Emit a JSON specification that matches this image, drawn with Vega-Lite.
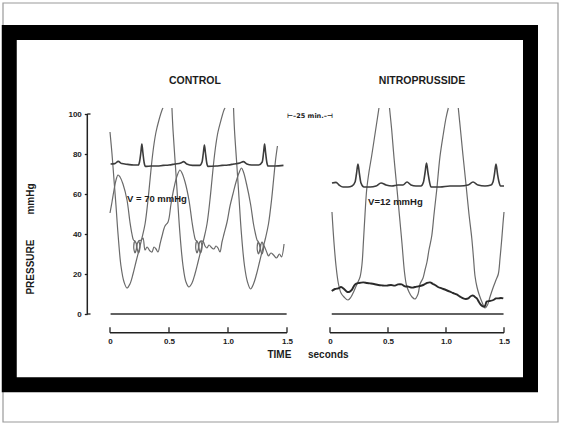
{
"$schema": "https://vega.github.io/schema/vega-lite/v6.json",
"width": 522, "height": 353,
"autosize": {"type": "none"},
"padding": {"left": 9, "top": 32, "right": 30, "bottom": 39},
"background": "white",
"config": {"view": {"stroke": null}, "axis": {"grid": false}, "font": "Liberation Sans"},
"datasets": {
"ticks": [{"t":0},{"t":0.5},{"t":1},{"t":1.5}],
"ycaps": [{"v":0},{"v":100}],
"c_ecg": [{"t":0.005,"v":75},{"t":0.04,"v":75.2},{"t":0.07,"v":76.3},{"t":0.1,"v":75.2},{"t":0.15,"v":74.8},{"t":0.2,"v":74.5},{"t":0.24,"v":74.5},{"t":0.25,"v":76},{"t":0.262,"v":81},{"t":0.27,"v":85},{"t":0.278,"v":81},{"t":0.29,"v":75.5},{"t":0.3,"v":73.8},{"t":0.35,"v":74},{"t":0.4,"v":74},{"t":0.45,"v":74.3},{"t":0.5,"v":74.5},{"t":0.55,"v":75},{"t":0.6,"v":75.5},{"t":0.625,"v":76.2},{"t":0.65,"v":75},{"t":0.7,"v":74.3},{"t":0.76,"v":74.3},{"t":0.78,"v":76},{"t":0.792,"v":81},{"t":0.8,"v":84.5},{"t":0.808,"v":81},{"t":0.82,"v":75.5},{"t":0.83,"v":73.8},{"t":0.9,"v":74},{"t":0.95,"v":74.3},{"t":1.0,"v":74.5},{"t":1.05,"v":75},{"t":1.1,"v":75.5},{"t":1.13,"v":76.2},{"t":1.16,"v":75},{"t":1.2,"v":74.5},{"t":1.26,"v":74.5},{"t":1.29,"v":76},{"t":1.302,"v":81},{"t":1.31,"v":85},{"t":1.318,"v":81},{"t":1.33,"v":75.5},{"t":1.34,"v":74},{"t":1.4,"v":74},{"t":1.47,"v":74.3}],
"c_lv": [
{"s":"a","t":0,"v":91},{"s":"a","t":0.017,"v":80},{"s":"a","t":0.034,"v":67},{"s":"a","t":0.051,"v":54},{"s":"a","t":0.068,"v":40},{"s":"a","t":0.093,"v":24},{"s":"a","t":0.119,"v":16},{"s":"a","t":0.144,"v":13},{"s":"a","t":0.169,"v":15},{"s":"a","t":0.195,"v":20},{"s":"a","t":0.22,"v":26},{"s":"a","t":0.246,"v":32},{"s":"a","t":0.271,"v":38},{"s":"a","t":0.297,"v":45},{"s":"a","t":0.322,"v":57},{"s":"a","t":0.339,"v":67},{"s":"a","t":0.356,"v":77},{"s":"a","t":0.373,"v":85},{"s":"a","t":0.39,"v":91},{"s":"a","t":0.415,"v":97},{"s":"a","t":0.441,"v":102},{"s":"a","t":0.449,"v":103},
{"s":"b","t":0.525,"v":103},{"s":"b","t":0.534,"v":92},{"s":"b","t":0.551,"v":77},{"s":"b","t":0.568,"v":62},{"s":"b","t":0.593,"v":40},{"s":"b","t":0.619,"v":24},{"s":"b","t":0.644,"v":16},{"s":"b","t":0.669,"v":13.5},{"s":"b","t":0.695,"v":15.5},{"s":"b","t":0.72,"v":20},{"s":"b","t":0.746,"v":26},{"s":"b","t":0.771,"v":32},{"s":"b","t":0.797,"v":38},{"s":"b","t":0.822,"v":45},{"s":"b","t":0.847,"v":57},{"s":"b","t":0.864,"v":67},{"s":"b","t":0.881,"v":77},{"s":"b","t":0.898,"v":85},{"s":"b","t":0.915,"v":91},{"s":"b","t":0.941,"v":97},{"s":"b","t":0.966,"v":102},{"s":"b","t":0.975,"v":103},
{"s":"c","t":1.047,"v":103},{"s":"c","t":1.055,"v":92},{"s":"c","t":1.072,"v":77},{"s":"c","t":1.089,"v":62},{"s":"c","t":1.114,"v":40},{"s":"c","t":1.14,"v":24},{"s":"c","t":1.165,"v":16},{"s":"c","t":1.191,"v":12.5},{"s":"c","t":1.216,"v":15},{"s":"c","t":1.242,"v":20},{"s":"c","t":1.267,"v":26},{"s":"c","t":1.292,"v":32},{"s":"c","t":1.318,"v":38},{"s":"c","t":1.343,"v":45},{"s":"c","t":1.369,"v":57},{"s":"c","t":1.386,"v":67},{"s":"c","t":1.403,"v":77},{"s":"c","t":1.419,"v":84}],
"c_pcw": [{"t":0,"v":50.5},{"t":0.017,"v":56},{"t":0.034,"v":62},{"t":0.051,"v":67},{"t":0.068,"v":69.5},{"t":0.085,"v":68.5},{"t":0.11,"v":65},{"t":0.144,"v":57},{"t":0.169,"v":46},{"t":0.186,"v":40},{"t":0.199,"v":37},
{"t":0.212,"v":36.5},{"t":0.225,"v":33.5},{"t":0.212,"v":30.5},{"t":0.201,"v":33.5},{"t":0.212,"v":36.5},{"t":0.227,"v":35},
{"t":0.242,"v":36.5},{"t":0.254,"v":33.5},{"t":0.242,"v":30.5},{"t":0.229,"v":33.5},{"t":0.242,"v":36.5},
{"t":0.267,"v":37},{"t":0.28,"v":38},{"t":0.297,"v":32},{"t":0.314,"v":33.5},{"t":0.339,"v":31.5},{"t":0.356,"v":31},{"t":0.373,"v":33.5},{"t":0.39,"v":32.5},{"t":0.407,"v":31},{"t":0.424,"v":35},{"t":0.441,"v":39},{"t":0.466,"v":44},{"t":0.492,"v":46},{"t":0.517,"v":55},{"t":0.542,"v":63},{"t":0.568,"v":69},{"t":0.593,"v":72},
{"t":0.61,"v":70.5},{"t":0.636,"v":66},{"t":0.669,"v":57},{"t":0.695,"v":46},{"t":0.712,"v":40},{"t":0.725,"v":37},
{"t":0.737,"v":36.5},{"t":0.75,"v":33.5},{"t":0.737,"v":30.5},{"t":0.726,"v":33.5},{"t":0.737,"v":36.5},{"t":0.753,"v":35},
{"t":0.767,"v":36.5},{"t":0.78,"v":33.5},{"t":0.767,"v":30.5},{"t":0.754,"v":33.5},{"t":0.767,"v":36.5},
{"t":0.792,"v":36},{"t":0.805,"v":34},{"t":0.822,"v":33},{"t":0.839,"v":34.5},{"t":0.864,"v":33},{"t":0.881,"v":32.5},{"t":0.898,"v":34},{"t":0.915,"v":33},{"t":0.932,"v":31},{"t":0.949,"v":36},{"t":0.966,"v":40},{"t":0.992,"v":46},{"t":1.017,"v":54},{"t":1.042,"v":60},{"t":1.068,"v":66},{"t":1.093,"v":70.5},{"t":1.114,"v":73},
{"t":1.131,"v":71},{"t":1.157,"v":65},{"t":1.191,"v":55},{"t":1.216,"v":45},{"t":1.233,"v":40},{"t":1.246,"v":37},
{"t":1.258,"v":36},{"t":1.271,"v":33},{"t":1.258,"v":30},{"t":1.247,"v":33},{"t":1.258,"v":36},{"t":1.274,"v":34.5},
{"t":1.288,"v":36},{"t":1.301,"v":33},{"t":1.288,"v":30},{"t":1.275,"v":33},{"t":1.288,"v":36},
{"t":1.314,"v":33},{"t":1.331,"v":30.5},{"t":1.343,"v":29},{"t":1.364,"v":30.5},{"t":1.386,"v":29.5},{"t":1.411,"v":28},{"t":1.436,"v":30},{"t":1.453,"v":28.5},{"t":1.475,"v":35}],
"n_ecg": [{"t":0.017,"v":65.5},{"t":0.052,"v":65.8},{"t":0.078,"v":64.5},{"t":0.112,"v":63.5},{"t":0.155,"v":63.5},{"t":0.19,"v":64},{"t":0.216,"v":66},{"t":0.228,"v":70},{"t":0.241,"v":75},{"t":0.254,"v":70},{"t":0.267,"v":65.5},{"t":0.293,"v":63.5},{"t":0.345,"v":63.5},{"t":0.397,"v":64},{"t":0.44,"v":65.5},{"t":0.483,"v":64.5},{"t":0.534,"v":64},{"t":0.586,"v":64.5},{"t":0.629,"v":64.5},{"t":0.664,"v":66},{"t":0.698,"v":64.5},{"t":0.741,"v":64},{"t":0.784,"v":64},{"t":0.806,"v":66},{"t":0.819,"v":70.5},{"t":0.832,"v":75.5},{"t":0.845,"v":70.5},{"t":0.858,"v":66},{"t":0.871,"v":63.5},{"t":0.948,"v":63.5},{"t":1.034,"v":64},{"t":1.121,"v":64},{"t":1.19,"v":64.5},{"t":1.233,"v":66},{"t":1.276,"v":64.5},{"t":1.336,"v":64},{"t":1.388,"v":64.5},{"t":1.405,"v":66},{"t":1.418,"v":70},{"t":1.431,"v":75},{"t":1.444,"v":70},{"t":1.457,"v":66},{"t":1.47,"v":64},{"t":1.5,"v":64}],
"n_lv": [
{"s":"d","t":0.017,"v":51},{"s":"d","t":0.034,"v":36},{"s":"d","t":0.052,"v":24},{"s":"d","t":0.073,"v":15},{"s":"d","t":0.095,"v":10.5},{"s":"d","t":0.121,"v":8.5},{"s":"d","t":0.155,"v":7},{"s":"d","t":0.181,"v":8.5},{"s":"d","t":0.207,"v":11.5},{"s":"d","t":0.233,"v":15},{"s":"d","t":0.259,"v":18.5},{"s":"d","t":0.276,"v":25},{"s":"d","t":0.289,"v":37},{"s":"d","t":0.302,"v":50},{"s":"d","t":0.316,"v":62},{"s":"d","t":0.336,"v":71},{"s":"d","t":0.359,"v":79},{"s":"d","t":0.388,"v":90},{"s":"d","t":0.409,"v":98},{"s":"d","t":0.422,"v":103},
{"s":"e","t":0.513,"v":103},{"s":"e","t":0.532,"v":92},{"s":"e","t":0.552,"v":78},{"s":"e","t":0.575,"v":64},{"s":"e","t":0.599,"v":49},{"s":"e","t":0.621,"v":35},{"s":"e","t":0.642,"v":21},{"s":"e","t":0.659,"v":14.5},{"s":"e","t":0.681,"v":11},{"s":"e","t":0.707,"v":8.5},{"s":"e","t":0.733,"v":7.5},{"s":"e","t":0.759,"v":10},{"s":"e","t":0.776,"v":15},{"s":"e","t":0.802,"v":18},{"s":"e","t":0.819,"v":22},{"s":"e","t":0.836,"v":26},{"s":"e","t":0.853,"v":32},{"s":"e","t":0.877,"v":39},{"s":"e","t":0.897,"v":50},{"s":"e","t":0.92,"v":62},{"s":"e","t":0.948,"v":78.7},{"s":"e","t":0.977,"v":90},{"s":"e","t":1.0,"v":98},{"s":"e","t":1.02,"v":103},
{"s":"f","t":1.106,"v":103},{"s":"f","t":1.125,"v":92},{"s":"f","t":1.147,"v":79},{"s":"f","t":1.172,"v":65},{"s":"f","t":1.198,"v":50},{"s":"f","t":1.222,"v":38},{"s":"f","t":1.237,"v":28},{"s":"f","t":1.25,"v":19},{"s":"f","t":1.267,"v":13.5},{"s":"f","t":1.284,"v":10},{"s":"f","t":1.31,"v":6},{"s":"f","t":1.336,"v":3},{"s":"f","t":1.358,"v":4.5},{"s":"f","t":1.379,"v":8.5},{"s":"f","t":1.408,"v":13.5},{"s":"f","t":1.431,"v":17},{"s":"f","t":1.451,"v":20},{"s":"f","t":1.466,"v":28},{"s":"f","t":1.48,"v":37},{"s":"f","t":1.491,"v":45},{"s":"f","t":1.5,"v":51}],
"n_pcw": [{"t":0.015,"v":11.5},{"t":0.043,"v":12.5},{"t":0.072,"v":12.8},{"t":0.095,"v":13.5},{"t":0.121,"v":12.5},{"t":0.144,"v":11.2},{"t":0.164,"v":11},{"t":0.187,"v":12},{"t":0.216,"v":14.8},{"t":0.25,"v":15.5},{"t":0.287,"v":15.8},{"t":0.319,"v":15.5},{"t":0.345,"v":15.3},{"t":0.379,"v":15},{"t":0.416,"v":14.5},{"t":0.448,"v":14.3},{"t":0.489,"v":14.2},{"t":0.526,"v":14.5},{"t":0.56,"v":14.2},{"t":0.586,"v":14.8},{"t":0.618,"v":14.8},{"t":0.647,"v":13.8},{"t":0.675,"v":13.7},{"t":0.707,"v":13.2},{"t":0.747,"v":13.7},{"t":0.776,"v":14},{"t":0.804,"v":14.5},{"t":0.836,"v":15.5},{"t":0.862,"v":15.8},{"t":0.888,"v":15},{"t":0.905,"v":14.5},{"t":0.931,"v":13.5},{"t":0.963,"v":12.8},{"t":1.0,"v":12},{"t":1.034,"v":11.2},{"t":1.06,"v":10.5},{"t":1.092,"v":9.8},{"t":1.121,"v":8.7},{"t":1.149,"v":7.8},{"t":1.172,"v":7.5},{"t":1.192,"v":7.8},{"t":1.216,"v":9},{"t":1.235,"v":9.2},{"t":1.25,"v":8.5},{"t":1.266,"v":7.8},{"t":1.284,"v":6},{"t":1.302,"v":4.5},{"t":1.322,"v":3.7},{"t":1.336,"v":4},{"t":1.351,"v":6.2},{"t":1.379,"v":6.5},{"t":1.408,"v":7},{"t":1.431,"v":7.8},{"t":1.451,"v":7.8},{"t":1.474,"v":8},{"t":1.494,"v":7.8}]
},
"layer": [
{"layer": [
 {"data": {"values": [{}]}, "mark": {"type": "rect", "fill": null, "stroke": "#9a9a9a", "strokeWidth": 1.2},
  "encoding": {"x": {"datum": -0.90678, "type": "quantitative", "scale": {"domain": [-0.85593, 3.5678], "nice": false, "zero": false}}, "x2": {"datum": 3.79661},
   "y": {"datum": 155.5, "type": "quantitative", "scale": {"domain": [-35.5, 141], "nice": false, "zero": false}}, "y2": {"datum": -54}}},
 {"data": {"values": [{}]}, "mark": {"type": "rect", "fill": null, "stroke": "#000000", "strokeWidth": 15},
  "encoding": {"x": {"datum": -0.85381, "type": "quantitative", "scale": {"domain": [-0.85593, 3.5678], "nice": false, "zero": false}}, "x2": {"datum": 3.56356},
   "y": {"datum": 140.75, "type": "quantitative", "scale": {"domain": [-35.5, 141], "nice": false, "zero": false}}, "y2": {"datum": -35.375}}},
 {"data": {"values": [{}]}, "mark": {"type": "rule", "color": "#2e2e2e", "strokeWidth": 1.6},
  "encoding": {"x": {"datum": 0.005, "type": "quantitative", "scale": {"domain": [-0.85593, 3.5678], "nice": false, "zero": false}}, "x2": {"datum": 1.497},
   "y": {"datum": 0, "type": "quantitative", "scale": {"domain": [-35.5, 141], "nice": false, "zero": false}}}},
 {"data": {"values": [{}]}, "mark": {"type": "rule", "color": "#222222", "strokeWidth": 1.4},
  "encoding": {"x": {"datum": 0, "type": "quantitative", "scale": {"domain": [-0.85593, 3.5678], "nice": false, "zero": false}}, "x2": {"datum": 1.5},
   "y": {"datum": -9.35, "type": "quantitative", "scale": {"domain": [-35.5, 141], "nice": false, "zero": false}}}},
 {"data": {"name": "ticks"}, "mark": {"type": "rule", "color": "#222222", "strokeWidth": 1.3},
  "encoding": {"x": {"field": "t", "type": "quantitative", "scale": {"domain": [-0.85593, 3.5678], "nice": false, "zero": false}},
   "y": {"datum": -9.35, "type": "quantitative", "scale": {"domain": [-35.5, 141], "nice": false, "zero": false}}, "y2": {"datum": -6.6}}},
 {"data": {"values": [{}]}, "mark": {"type": "rule", "color": "#222222", "strokeWidth": 1.5},
  "encoding": {"x": {"datum": -0.19237, "type": "quantitative", "scale": {"domain": [-0.85593, 3.5678], "nice": false, "zero": false}},
   "y": {"datum": 0, "type": "quantitative", "scale": {"domain": [-35.5, 141], "nice": false, "zero": false}}, "y2": {"datum": 100}}},
 {"data": {"name": "ycaps"}, "mark": {"type": "rule", "color": "#222222", "strokeWidth": 1.3},
  "encoding": {"x": {"datum": -0.19237, "type": "quantitative", "scale": {"domain": [-0.85593, 3.5678], "nice": false, "zero": false}}, "x2": {"datum": -0.165},
   "y": {"field": "v", "type": "quantitative", "scale": {"domain": [-35.5, 141], "nice": false, "zero": false}}}},
 {"data": {"name": "c_lv"}, "mark": {"type": "line", "color": "#6a6a6a", "strokeWidth": 1.2, "interpolate": "catmull-rom"},
  "encoding": {
   "x": {"field": "t", "type": "quantitative", "scale": {"domain": [-0.85593, 3.5678], "nice": false, "zero": false},
    "axis": {"orient": "bottom", "values": [0, 0.5, 1, 1.5], "domain": false, "ticks": false, "tickSize": 0, "grid": false, "offset": -50, "labelPadding": 2,
     "labelExpr": "datum.value == 0 ? '0' : format(datum.value, '.1f')", "labelFont": "Liberation Sans", "labelFontWeight": "bold", "labelFontSize": 8, "labelColor": "#1c1c1c", "labelFlush": false, "labelOverlap": false,
     "title": "TIME\u00a0\u00a0\u00a0\u00a0\u00a0\u00a0seconds", "titleFont": "Liberation Sans", "titleFontWeight": "bold", "titleFontSize": 10, "titleColor": "#1c1c1c", "titleX": 298.5, "titleY": 19, "titleAlign": "center", "titleBaseline": "middle"}},
   "y": {"field": "v", "type": "quantitative", "scale": {"domain": [-35.5, 141], "nice": false, "zero": false},
    "axis": {"values": [0, 20, 40, 60, 80, 100], "domain": false, "grid": false, "offset": -78.3, "tickSize": 3, "tickWidth": 1.3, "tickColor": "#222222",
     "labelFont": "Liberation Sans", "labelFontWeight": "bold", "labelFontSize": 8, "labelColor": "#1c1c1c", "labelPadding": 3,
     "title": "PRESSURE\u00a0\u00a0\u00a0\u00a0\u00a0\u00a0\u00a0\u00a0\u00a0mmHg", "titleFont": "Liberation Sans", "titleFontWeight": "bold", "titleFontSize": 10, "titleColor": "#1c1c1c",
     "titleX": -57.3, "titleY": 206.5, "titleAngle": -90, "titleAlign": "center", "titleBaseline": "middle"}},
   "detail": {"field": "s"},
   "order": {"value": null}}},
 {"data": {"name": "c_pcw"}, "mark": {"type": "line", "color": "#6a6a6a", "strokeWidth": 1.2, "interpolate": "catmull-rom"},
  "encoding": {"x": {"field": "t", "type": "quantitative", "scale": {"domain": [-0.85593, 3.5678], "nice": false, "zero": false}},
   "y": {"field": "v", "type": "quantitative", "scale": {"domain": [-35.5, 141], "nice": false, "zero": false}},
   "order": {"value": null}}},
 {"data": {"name": "c_ecg"}, "mark": {"type": "line", "color": "#3c3c3c", "strokeWidth": 1.6, "interpolate": "monotone"},
  "encoding": {"x": {"field": "t", "type": "quantitative", "scale": {"domain": [-0.85593, 3.5678], "nice": false, "zero": false}},
   "y": {"field": "v", "type": "quantitative", "scale": {"domain": [-35.5, 141], "nice": false, "zero": false}}}},
 {"data": {"values": [{"t": 0.72, "v": 116.5, "text": "CONTROL"}]}, "mark": {"type": "text", "font": "Liberation Sans", "fontWeight": "bold", "fontSize": 10.5, "color": "#1c1c1c", "align": "center", "baseline": "middle"},
  "encoding": {"x": {"field": "t", "type": "quantitative", "scale": {"domain": [-0.85593, 3.5678], "nice": false, "zero": false}},
   "y": {"field": "v", "type": "quantitative", "scale": {"domain": [-35.5, 141], "nice": false, "zero": false}}, "text": {"field": "text"}}},
 {"data": {"values": [{"t": 0.144, "v": 57.5, "text": "V = 70 mmHg"}]}, "mark": {"type": "text", "font": "Liberation Sans", "fontWeight": "bold", "fontSize": 9.5, "color": "#1c1c1c", "align": "left", "baseline": "middle"},
  "encoding": {"x": {"field": "t", "type": "quantitative", "scale": {"domain": [-0.85593, 3.5678], "nice": false, "zero": false}},
   "y": {"field": "v", "type": "quantitative", "scale": {"domain": [-35.5, 141], "nice": false, "zero": false}}, "text": {"field": "text"}}},
 {"data": {"values": [{"t": 1.695, "v": 99, "text": "⊢–25 min.–⊣"}]}, "mark": {"type": "text", "font": "DejaVu Sans", "fontWeight": "bold", "fontSize": 6.5, "color": "#1c1c1c", "align": "center", "baseline": "middle"},
  "encoding": {"x": {"field": "t", "type": "quantitative", "scale": {"domain": [-0.85593, 3.5678], "nice": false, "zero": false}},
   "y": {"field": "v", "type": "quantitative", "scale": {"domain": [-35.5, 141], "nice": false, "zero": false}}, "text": {"field": "text"}}}
]},
{"layer": [
 {"data": {"values": [{}]}, "mark": {"type": "rule", "color": "#2e2e2e", "strokeWidth": 1.6},
  "encoding": {"x": {"datum": 0.015, "type": "quantitative", "scale": {"domain": [-2.76724, 1.73276], "nice": false, "zero": false}}, "x2": {"datum": 1.496},
   "y": {"datum": 0, "type": "quantitative", "scale": {"domain": [-35.5, 141], "nice": false, "zero": false}}}},
 {"data": {"values": [{}]}, "mark": {"type": "rule", "color": "#222222", "strokeWidth": 1.4},
  "encoding": {"x": {"datum": 0, "type": "quantitative", "scale": {"domain": [-2.76724, 1.73276], "nice": false, "zero": false}}, "x2": {"datum": 1.5},
   "y": {"datum": -9.35, "type": "quantitative", "scale": {"domain": [-35.5, 141], "nice": false, "zero": false}}}},
 {"data": {"name": "ticks"}, "mark": {"type": "rule", "color": "#222222", "strokeWidth": 1.3},
  "encoding": {"x": {"field": "t", "type": "quantitative", "scale": {"domain": [-2.76724, 1.73276], "nice": false, "zero": false}},
   "y": {"datum": -9.35, "type": "quantitative", "scale": {"domain": [-35.5, 141], "nice": false, "zero": false}}, "y2": {"datum": -6.6}}},
 {"data": {"name": "n_lv"}, "mark": {"type": "line", "color": "#6a6a6a", "strokeWidth": 1.2, "interpolate": "catmull-rom"},
  "encoding": {
   "x": {"field": "t", "type": "quantitative", "scale": {"domain": [-2.76724, 1.73276], "nice": false, "zero": false},
    "axis": {"orient": "bottom", "values": [0, 0.5, 1, 1.5], "domain": false, "ticks": false, "tickSize": 0, "grid": false, "offset": -50, "labelPadding": 2,
     "labelExpr": "datum.value == 0 ? '0' : format(datum.value, '.1f')", "labelFont": "Liberation Sans", "labelFontWeight": "bold", "labelFontSize": 8, "labelColor": "#1c1c1c", "labelFlush": false, "labelOverlap": false, "title": null}},
   "y": {"field": "v", "type": "quantitative", "scale": {"domain": [-35.5, 141], "nice": false, "zero": false}},
   "detail": {"field": "s"}}},
 {"data": {"name": "n_pcw"}, "mark": {"type": "line", "color": "#2a2a2a", "strokeWidth": 1.9, "interpolate": "catmull-rom"},
  "encoding": {"x": {"field": "t", "type": "quantitative", "scale": {"domain": [-2.76724, 1.73276], "nice": false, "zero": false}},
   "y": {"field": "v", "type": "quantitative", "scale": {"domain": [-35.5, 141], "nice": false, "zero": false}}}},
 {"data": {"name": "n_ecg"}, "mark": {"type": "line", "color": "#3c3c3c", "strokeWidth": 1.6, "interpolate": "monotone"},
  "encoding": {"x": {"field": "t", "type": "quantitative", "scale": {"domain": [-2.76724, 1.73276], "nice": false, "zero": false}},
   "y": {"field": "v", "type": "quantitative", "scale": {"domain": [-35.5, 141], "nice": false, "zero": false}}}},
 {"data": {"values": [{"t": 0.793, "v": 116.5, "text": "NITROPRUSSIDE"}]}, "mark": {"type": "text", "font": "Liberation Sans", "fontWeight": "bold", "fontSize": 10.5, "color": "#1c1c1c", "align": "center", "baseline": "middle"},
  "encoding": {"x": {"field": "t", "type": "quantitative", "scale": {"domain": [-2.76724, 1.73276], "nice": false, "zero": false}},
   "y": {"field": "v", "type": "quantitative", "scale": {"domain": [-35.5, 141], "nice": false, "zero": false}}, "text": {"field": "text"}}},
 {"data": {"values": [{"t": 0.328, "v": 56.25, "text": "V=12 mmHg"}]}, "mark": {"type": "text", "font": "Liberation Sans", "fontWeight": "bold", "fontSize": 9.5, "color": "#1c1c1c", "align": "left", "baseline": "middle"},
  "encoding": {"x": {"field": "t", "type": "quantitative", "scale": {"domain": [-2.76724, 1.73276], "nice": false, "zero": false}},
   "y": {"field": "v", "type": "quantitative", "scale": {"domain": [-35.5, 141], "nice": false, "zero": false}}, "text": {"field": "text"}}}
]}
],
"resolve": {"scale": {"x": "independent"}}
}
